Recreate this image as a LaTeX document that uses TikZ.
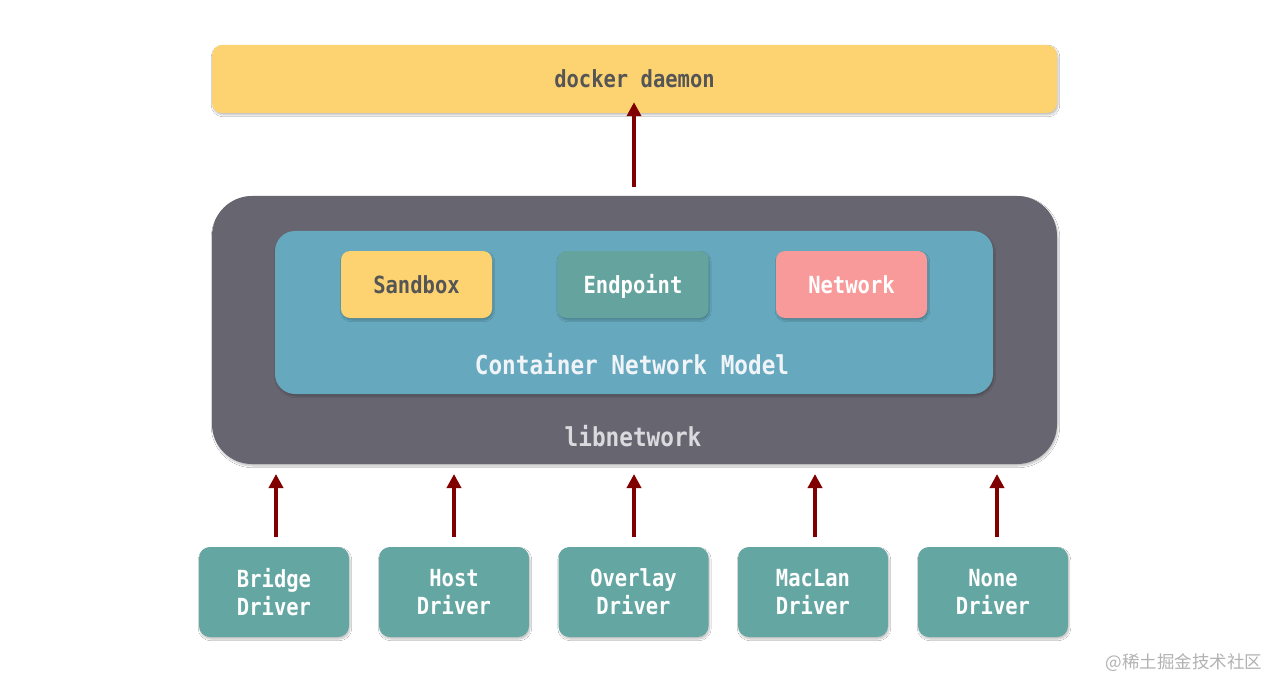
\documentclass[tikz,border=0pt]{standalone}
\usepackage{fontspec}
\setmonofont{DejaVu Sans Mono}
\newfontfamily\cjk{Noto Sans CJK SC}
\usetikzlibrary{shadows.blur,arrows.meta}
\definecolor{daemonY}{HTML}{FDD372}
\definecolor{libG}{HTML}{676570}
\definecolor{cnmB}{HTML}{66A9BF}
\definecolor{tealC}{HTML}{64A6A2}
\definecolor{endC}{HTML}{64A39E}
\definecolor{pinkC}{HTML}{F89A9A}
\definecolor{arrR}{HTML}{800000}
\definecolor{darkT}{HTML}{555555}
\definecolor{libT}{HTML}{D9D9DE}
\definecolor{cnmT}{HTML}{F0F4F8}
\tikzset{
  shd/.style={blur shadow={shadow blur steps=6,shadow xshift=1pt,shadow yshift=-2pt,shadow opacity=25}},
  box/.style={rectangle,shd,inner sep=0pt,align=center,font=\ttfamily\bfseries\fontsize{20.5}{28}\selectfont},
  smallbox/.style={box,minimum width=151pt,minimum height=67pt,rounded corners=9pt,text height=20pt,text depth=2pt},
  drv/.style={box,fill=tealC,text=white,minimum width=150pt,minimum height=90pt,rounded corners=11pt},
  up/.style={draw=arrR,line width=3.6pt,-{Triangle[width=14pt,length=14pt]}},
}
\newcommand{\tall}[1]{\scalebox{1}[1.15]{#1}}
\begin{document}
\begin{tikzpicture}[x=1pt,y=-1pt]
\useasboundingbox[fill=white] (0,0) rectangle (1273,676);
% docker daemon
\node[box,fill=daemonY,text=darkT,minimum width=845pt,minimum height=68pt,rounded corners=10pt] (daemon) at (634.5,79) {\tall{docker daemon}};
% libnetwork
\node[box,fill=libG,minimum width=845pt,minimum height=268pt,rounded corners=40pt] (lib) at (634.5,330) {};
\node[font=\ttfamily\bfseries\fontsize{22.7}{28}\selectfont,text=libT] (libtxt) at (633,436) {\tall{libnetwork}};
% CNM
\node[box,fill=cnmB,minimum width=718pt,minimum height=163pt,rounded corners=20pt] (cnm) at (634,312.5) {};
\node[font=\ttfamily\bfseries\fontsize{22.7}{28}\selectfont,text=cnmT] (cnmtxt) at (632,364) {\tall{Container Network Model}};
\node[smallbox,fill=daemonY,text=darkT] (sandbox) at (416.5,284.5) {\tall{Sandbox}};
\node[smallbox,fill=endC,text=white] (endpoint) at (633,284.5) {\tall{Endpoint}};
\node[smallbox,fill=pinkC,text=white] (network) at (851.5,284.5) {\tall{Network}};
% drivers
\node[drv] (bridge) at (274,592) {\tall{Bridge}\\\tall{Driver}};
\node[drv] (host) at (454,592) {\tall{Host}\\\tall{Driver}};
\node[drv] (overlay) at (633.5,592) {\tall{Overlay}\\\tall{Driver}};
\node[drv] (maclan) at (813,592) {\tall{MacLan}\\\tall{Driver}};
\node[drv] (none) at (993,592) {\tall{None}\\\tall{Driver}};
% arrows
\coordinate (dtop) at (634,187);
\draw[up] (dtop) -- ([yshift=11pt]daemon.south -| dtop);
\foreach \n/\xx in {bridge/276,host/454,overlay/634,maclan/815,none/997}{
  \coordinate (s\n) at (\xx,537);
  \coordinate (t\n) at (\xx,474);
  \draw[up] (s\n) -- (t\n);
}
% watermark
\node[font=\cjk\fontsize{17.5}{20}\selectfont,text=black!30,anchor=east] (wm) at (1266,663) {@稀土掘金技术社区};
\end{tikzpicture}
\end{document}
